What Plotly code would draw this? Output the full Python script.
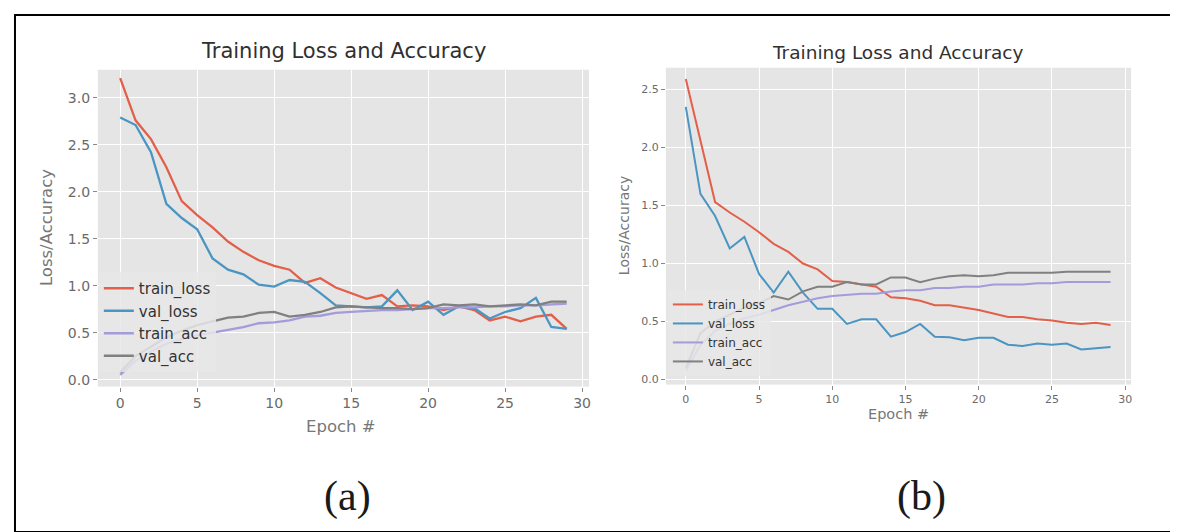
import plotly.graph_objects as go

epochs = list(range(30))

# Panel (a)
a_train_loss = [3.21, 2.76, 2.56, 2.26, 1.90, 1.75, 1.62, 1.47, 1.36, 1.27, 1.21, 1.17, 1.03, 1.08, 0.98,
                0.92, 0.86, 0.90, 0.78, 0.79, 0.78, 0.74, 0.78, 0.74, 0.63, 0.67, 0.62, 0.67, 0.69, 0.54]
a_val_loss = [2.79, 2.71, 2.42, 1.87, 1.72, 1.60, 1.29, 1.17, 1.12, 1.01, 0.99, 1.06, 1.04, 0.92, 0.79,
              0.78, 0.77, 0.78, 0.95, 0.74, 0.83, 0.69, 0.78, 0.76, 0.65, 0.72, 0.76, 0.87, 0.56, 0.54]
a_train_acc = [0.05, 0.20, 0.30, 0.38, 0.43, 0.47, 0.50, 0.53, 0.56, 0.60, 0.61, 0.63, 0.67, 0.68, 0.71,
               0.72, 0.73, 0.74, 0.74, 0.75, 0.76, 0.76, 0.77, 0.77, 0.78, 0.78, 0.79, 0.79, 0.80, 0.81]
a_val_acc = [0.08, 0.25, 0.35, 0.45, 0.52, 0.58, 0.62, 0.66, 0.67, 0.71, 0.72, 0.67, 0.69, 0.72, 0.77,
             0.78, 0.77, 0.76, 0.76, 0.75, 0.76, 0.80, 0.79, 0.80, 0.78, 0.79, 0.80, 0.79, 0.83, 0.83]

# Panel (b)
b_train_loss = [2.59, 2.05, 1.53, 1.44, 1.36, 1.27, 1.17, 1.10, 1.00, 0.95, 0.85, 0.84, 0.82, 0.80, 0.71,
                0.70, 0.68, 0.64, 0.64, 0.62, 0.60, 0.57, 0.54, 0.54, 0.52, 0.51, 0.49, 0.48, 0.49, 0.47]
b_val_loss = [2.35, 1.60, 1.41, 1.13, 1.23, 0.91, 0.75, 0.93, 0.75, 0.61, 0.61, 0.48, 0.52, 0.52, 0.37,
              0.41, 0.48, 0.37, 0.365, 0.34, 0.36, 0.36, 0.30, 0.29, 0.31, 0.30, 0.31, 0.26, 0.27, 0.28]
b_train_acc = [0.08, 0.30, 0.42, 0.48, 0.53, 0.56, 0.60, 0.64, 0.67, 0.70, 0.72, 0.73, 0.74, 0.74, 0.76,
               0.77, 0.77, 0.79, 0.79, 0.80, 0.80, 0.82, 0.82, 0.82, 0.83, 0.83, 0.84, 0.84, 0.84, 0.84]
b_val_acc = [0.10, 0.40, 0.50, 0.56, 0.62, 0.66, 0.72, 0.69, 0.76, 0.80, 0.80, 0.84, 0.82, 0.82, 0.88,
             0.88, 0.84, 0.87, 0.89, 0.90, 0.89, 0.90, 0.92, 0.92, 0.92, 0.92, 0.93, 0.93, 0.93, 0.93]

series_names = ["train_loss", "val_loss", "train_acc", "val_acc"]
colors = ["#e2604a", "#4b95c2", "#a49bdb", "#808080"]

title_text = "Training Loss and Accuracy"
xlabel = "Epoch #"
ylabel = "Loss/Accuracy"
yticks = [0.0, 0.5, 1.0, 1.5, 2.0, 2.5, 3.0]
xticks = [0, 5, 10, 15, 20, 25, 30]

W, H = 1178, 532

def px(x):
    return x / W

def py(y):
    return 1 - y / H

fig = go.Figure()

for name, ys, c in zip(series_names, [a_train_loss, a_val_loss, a_train_acc, a_val_acc], colors):
    fig.add_trace(go.Scatter(x=epochs, y=ys, mode="lines", name=name, line=dict(color=c, width=2.3),
                             xaxis="x", yaxis="y", legend="legend"))
for name, ys, c in zip(series_names, [b_train_loss, b_val_loss, b_train_acc, b_val_acc], colors):
    fig.add_trace(go.Scatter(x=epochs, y=ys, mode="lines", name=name, line=dict(color=c, width=2),
                             xaxis="x2", yaxis="y2", legend="legend2"))

font_family = "DejaVu Sans"
tick_col = "#6a6a6a"

def axis(domain, rng, tickvals, fs, anchor):
    return dict(domain=domain, range=rng, tickvals=tickvals,
                ticktext=[("%.1f" % t) if isinstance(t, float) else str(t) for t in tickvals],
                showgrid=True, gridcolor="white", gridwidth=1.2, zeroline=False,
                ticks="outside", ticklen=4, tickcolor="#888888", tickwidth=1,
                tickfont=dict(family=font_family, size=fs, color=tick_col),
                showline=False, anchor=anchor, fixedrange=True)

layout = dict(
    width=W, height=H, margin=dict(l=0, r=0, t=0, b=0),
    paper_bgcolor="white", plot_bgcolor="#e5e5e5",
    showlegend=True,
    xaxis=axis([px(90), px(582)], [-1.45, 30.45], xticks, 14, "y"),
    yaxis=axis([py(380), py(62)], [-0.074, 3.298], yticks, 14, "x"),
    xaxis2=axis([px(659), px(1125)], [-1.36, 30.4], xticks, 11, "y2"),
    yaxis2=axis([py(378), py(60)], [-0.043, 2.687], yticks[:6], 11, "x2"),
    legend=dict(x=px(91), y=py(265), xanchor="left", yanchor="top",
                bgcolor="rgba(232,232,232,0.85)", borderwidth=0,
                font=dict(family=font_family, size=15, color="#333333"),
                tracegroupgap=0, itemwidth=30),
    legend2=dict(x=px(661), y=py(283), xanchor="left", yanchor="top",
                 bgcolor="rgba(232,232,232,0.85)", borderwidth=0,
                 font=dict(family=font_family, size=12, color="#333333"),
                 tracegroupgap=0, itemwidth=30),
)
fig.update_layout(**layout)

annotations = [
    dict(text=title_text, x=px(336), y=py(43), font=dict(family=font_family, size=21, color="#303030")),
    dict(text=title_text, x=px(892), y=py(45), font=dict(family=font_family, size=18.5, color="#303030")),
    dict(text=xlabel, x=px(334), y=py(420), font=dict(family=font_family, size=16.5, color="#777777")),
    dict(text=xlabel, x=px(892), y=py(408), font=dict(family=font_family, size=14.5, color="#777777")),
    dict(text=ylabel, x=px(38), y=py(220), textangle=-90, font=dict(family=font_family, size=16.5, color="#777777")),
    dict(text=ylabel, x=px(617), y=py(218), textangle=-90, font=dict(family=font_family, size=14, color="#777777")),
    dict(text="(a)", x=px(340), y=py(490), font=dict(family="Liberation Serif", size=42, color="#1a1a1a")),
    dict(text="(b)", x=px(915), y=py(490), font=dict(family="Liberation Serif", size=42, color="#1a1a1a")),
]
fig.update_layout(annotations=[dict(a, xref="paper", yref="paper", showarrow=False,
                                    xanchor="center", yanchor="middle") for a in annotations])

fig.update_layout(shapes=[dict(type="rect", xref="paper", yref="paper",
                               x0=px(7), x1=px(1171), y0=py(526), y1=py(7),
                               line=dict(color="black", width=2), fillcolor="rgba(0,0,0,0)")])

fig.write_html("out.html")
